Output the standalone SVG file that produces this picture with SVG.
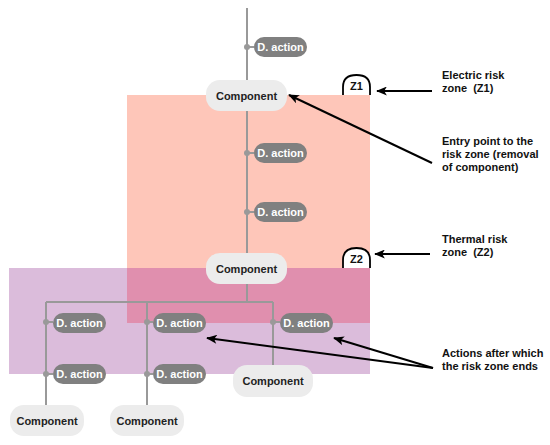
<svg xmlns="http://www.w3.org/2000/svg" width="550" height="445" viewBox="0 0 550 445">
<defs>
<marker id="ah" viewBox="0 0 12 10" refX="11" refY="5" markerWidth="12" markerHeight="9" markerUnits="userSpaceOnUse" orient="auto">
<path d="M0,0 L12,5 L0,10 L3,5 Z" fill="#000"/>
</marker>
<style>
.act rect{fill:#808080}
.act text{fill:#fff;font-family:"Liberation Sans",Arial,sans-serif;font-size:11px;font-weight:bold;text-anchor:middle}
.comp rect{fill:#ececec}
.comp text{fill:#222;font-family:"Liberation Sans",Arial,sans-serif;font-size:11px;font-weight:bold;text-anchor:middle}
.ln{stroke:#999;stroke-width:2;fill:none}
.dot{fill:#999}
.arr{stroke:#000;stroke-width:2;fill:none;marker-end:url(#ah)}
.lbl{font-family:"Liberation Sans",Arial,sans-serif;font-size:11px;font-weight:bold;fill:#111}
.badge path{fill:#fff;stroke:#000;stroke-width:1.8}
.badge text{font-family:"Liberation Sans",Arial,sans-serif;font-size:11px;font-weight:bold;fill:#111;text-anchor:middle}
</style>
</defs>
<g id="zones">
<rect x="9" y="268" width="361" height="106" fill="#dbbcdb"/>
<rect x="127" y="95" width="243" height="228" fill="#fec6b9"/>
<rect x="127" y="268" width="243" height="55" fill="#e08fae"/>
</g>
<g id="connectors">
<path class="ln" d="M247,8 V80 M247,111 V253 M247,284 V302 M46,302 H273 M46,302 V406 M147,302 V406 M273,302 V365"/>
<path class="ln" d="M247,47 H254 M247,153 H254 M247,212 H254 M46,322 H53 M46,374 H53 M147,322 H153 M147,374 H153 M273,322 H280"/>
<circle class="dot" cx="247" cy="47" r="3"/>
<circle class="dot" cx="247" cy="153" r="3"/>
<circle class="dot" cx="247" cy="212" r="3"/>
<circle class="dot" cx="46" cy="322" r="3"/>
<circle class="dot" cx="46" cy="374" r="3"/>
<circle class="dot" cx="147" cy="322" r="3"/>
<circle class="dot" cx="147" cy="374" r="3"/>
<circle class="dot" cx="273" cy="322" r="3"/>
<path class="arr" d="M432,91 L377,91"/>
<path class="arr" d="M432,163 L289,95"/>
<path class="arr" d="M430,254 L375,254"/>
<path class="arr" d="M433,368 L207,338"/>
<path class="arr" d="M433,368 L334,338"/>
</g>
<g id="z1" class="badge"><path d="M343,95 V87 Q343,75 356.5,75 Q370,75 370,87 V95"/><text x="356.5" y="90">Z1</text></g>
<g id="z2" class="badge"><path d="M343,268 V260 Q343,248 356.5,248 Q370,248 370,260 V268"/><text x="356.5" y="263">Z2</text></g>
<g id="a1" class="act"><rect x="254" y="37" width="53" height="20" rx="10"/><text x="280.5" y="51">D. action</text></g>
<g id="c1" class="comp"><rect x="206" y="80" width="81" height="31" rx="14"/><text x="246.5" y="99.5">Component</text></g>
<g id="a2" class="act"><rect x="254" y="143" width="53" height="20" rx="10"/><text x="280.5" y="157">D. action</text></g>
<g id="a3" class="act"><rect x="254" y="202" width="53" height="20" rx="10"/><text x="280.5" y="216">D. action</text></g>
<g id="c2" class="comp"><rect x="206" y="253" width="81" height="31" rx="14"/><text x="246.5" y="272.5">Component</text></g>
<g id="a4" class="act"><rect x="53" y="313" width="53" height="20" rx="10"/><text x="79.5" y="327">D. action</text></g>
<g id="a5" class="act"><rect x="53" y="364" width="53" height="20" rx="10"/><text x="79.5" y="378">D. action</text></g>
<g id="a6" class="act"><rect x="153" y="313" width="53" height="20" rx="10"/><text x="179.5" y="327">D. action</text></g>
<g id="a7" class="act"><rect x="153" y="364" width="53" height="20" rx="10"/><text x="179.5" y="378">D. action</text></g>
<g id="a8" class="act"><rect x="280" y="313" width="53" height="20" rx="10"/><text x="306.5" y="327">D. action</text></g>
<g id="c3" class="comp"><rect x="233" y="365" width="80" height="32" rx="14"/><text x="273" y="385">Component</text></g>
<g id="c4" class="comp"><rect x="10" y="405" width="74" height="31" rx="14"/><text x="47" y="424.5">Component</text></g>
<g id="c5" class="comp"><rect x="110" y="405" width="74" height="31" rx="14"/><text x="147" y="424.5">Component</text></g>
<g id="labels">
<text class="lbl" x="442" y="79">Electric risk</text>
<text class="lbl" x="442" y="92" xml:space="preserve">zone  (Z1)</text>
<text class="lbl" x="442" y="145">Entry point to the</text>
<text class="lbl" x="442" y="158">risk zone (removal</text>
<text class="lbl" x="442" y="171">of component)</text>
<text class="lbl" x="442" y="243">Thermal risk</text>
<text class="lbl" x="442" y="256" xml:space="preserve">zone  (Z2)</text>
<text class="lbl" x="442" y="357">Actions after which</text>
<text class="lbl" x="442" y="370">the risk zone ends</text>
</g>
</svg>
